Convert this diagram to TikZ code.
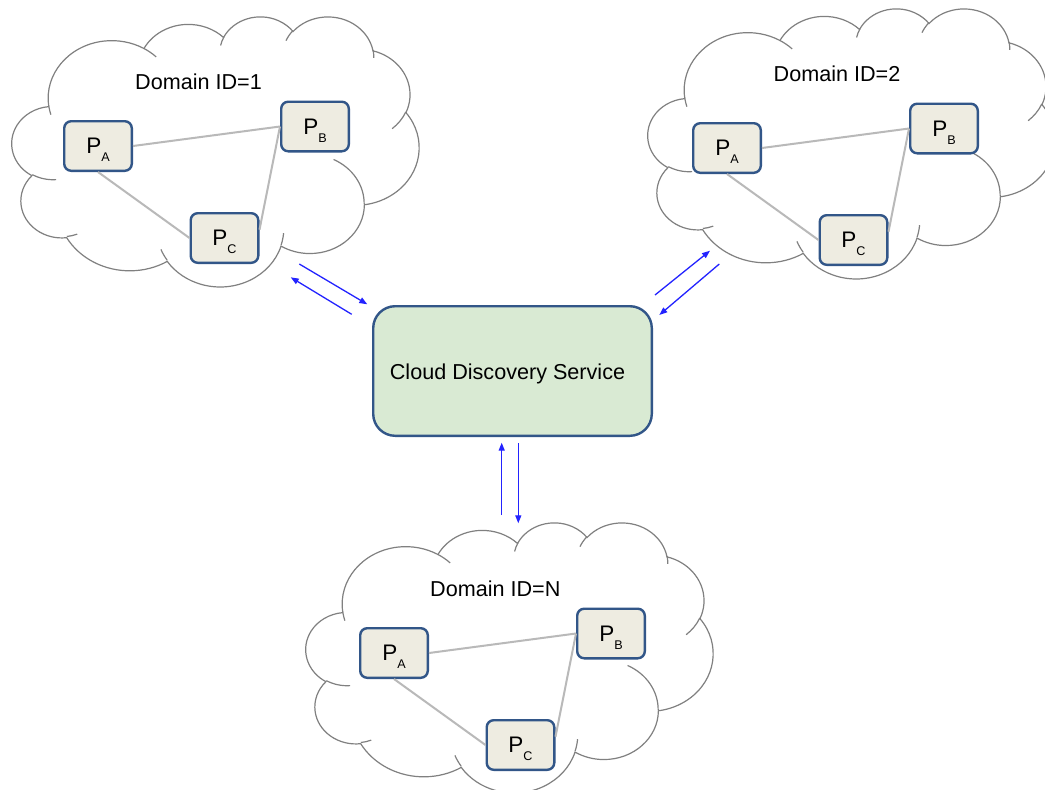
\documentclass[tikz,border=0pt]{standalone}
\usepackage{fontspec}
\setmainfont{Liberation Sans}
\usetikzlibrary{arrows.meta,calc}
\definecolor{boxblue}{RGB}{50,86,136}
\definecolor{pfill}{RGB}{238,236,225}
\definecolor{cdsfill}{RGB}{217,234,211}
\definecolor{linkgray}{RGB}{185,185,185}
\definecolor{cloudgray}{RGB}{128,128,128}
\definecolor{arrowblue}{RGB}{35,35,255}
\tikzset{
  carc/.style n args={4}{start angle={pa(#1,#2,#3)},
    delta angle={Mod(pa(#1,#2,#3+#4)-pa(#1,#2,#3),360)},
    x radius=#1, y radius=#2},
  cloudline/.style={draw=cloudgray, line width=1.2pt},
  pbox/.style={draw=boxblue, line width=2.4pt, fill=pfill, rounded corners=7pt,
    minimum width=67.6pt, minimum height=49.6pt, inner sep=0pt},
  cdsbox/.style={draw=boxblue, line width=2.4pt, fill=cdsfill, rounded corners=22pt,
    minimum width=278.6pt, minimum height=129.6pt, inner sep=0pt,
    text height=16.6pt, text depth=0pt, font=\fontsize{21.6}{24}\selectfont},
  domtext/.style={anchor=base west, inner sep=0pt, font=\fontsize{21.6}{24}\selectfont},
  link/.style={draw=linkgray, line width=2pt},
  flow/.style={draw=arrowblue, line width=1.3pt, -{Triangle[length=8pt,width=6pt]}}
}
\newcommand\procname[2]{\fontsize{22.5}{22}\selectfont #1\raisebox{-8pt}[0pt][0pt]{\fontsize{12.6}{13}\selectfont #2}}
\newcommand\domaincloud[2]{%
  \begin{scope}[shift={(#1,#2)}, xscale=9.4213, yscale=6.25]
    \draw[cloudline, fill=white] (3.9,14.37)
      arc[carc={6.753}{9.19}{-190.48748}{123.78053}]
      arc[carc={5.333}{7.267}{-144.10238}{89.94523}]
      arc[carc={4.365}{5.945}{-145.80792}{99.72302}]
      arc[carc={4.857}{6.595}{-130.98607}{117.24173}]
      arc[carc={5.333}{7.273}{-78.70888}{109.02692}]
      arc[carc={6.775}{9.22}{-46.26725}{130.269}]
      arc[carc={5.785}{7.867}{0.62502}{114.03333}]
      arc[carc={6.752}{9.215}{22.4516}{115.17255}]
      arc[carc={7.72}{10.543}{66.24263}{75.71102}]
      arc[carc={4.36}{5.918}{-274.94208}{146.73557}]
      arc[carc={4.345}{5.945}{-246.8285}{152.51885}] -- cycle;
    \draw[cloudline]
      (4.693,26.177) arc[carc={4.345}{5.945}{86.742}{26.4295}]
      (6.928,34.899) arc[carc={4.36}{5.918}{73.61047}{11.44747}]
      (16.478,39.09) arc[carc={6.752}{9.215}{137.62415}{14.0811}]
      (28.827,34.751) arc[carc={6.752}{9.215}{6.45327}{15.99835}]
      (34.129,22.954) arc[carc={5.785}{7.867}{-70.29235}{70.91737}]
      (41.798,15.354) arc[carc={5.333}{7.273}{30.31803}{27.7515}]
      (38.324,5.426) arc[carc={4.857}{6.595}{-13.74433}{14.8589}]
      (29.078,3.952) arc[carc={4.857}{6.595}{-149.18145}{18.19537}]
      (22.141,4.72) arc[carc={4.365}{5.945}{-163.49427}{17.68635}]
      (14,5.192) arc[carc={6.753}{9.19}{-66.70695}{12.31935}]
      (4.127,15.789) arc[carc={6.753}{9.19}{157.65435}{11.85817}];
  \end{scope}}
\begin{document}
\begin{tikzpicture}[x=1pt, y=1pt, yscale=-1,
  declare function={pa(\qw,\qh,\qa)=atan2(\qw*sin(\qa),\qh*cos(\qa));}]
\useasboundingbox (0,0) rectangle (1045,790);
\clip (0,0) rectangle (1045,790);
\fill[white] (0,0) rectangle (1045,790);

% clouds
\domaincloud{12}{16}
\domaincloud{648}{8}
\domaincloud{306}{522}

% domain labels
\node[domtext] (d1) at (135,89) {Domain ID=1};
\node[domtext] (d2) at (773.5,81.7) {Domain ID=2};
\node[domtext] (dn) at (430,596) {Domain ID=N};

% domain 1
\node[pbox] (pa1) at (98,146) {\procname{P}{A}};
\node[pbox] (pb1) at (315,126.5) {\procname{P}{B}};
\node[pbox] (pc1) at (224.5,238) {\procname{P}{C}};
% domain 2
\node[pbox] (pa2) at (727,148) {\procname{P}{A}};
\node[pbox] (pb2) at (944,128.5) {\procname{P}{B}};
\node[pbox] (pc2) at (853.5,240) {\procname{P}{C}};
% domain N
\node[pbox] (pan) at (394,653) {\procname{P}{A}};
\node[pbox] (pbn) at (611,633.5) {\procname{P}{B}};
\node[pbox] (pcn) at (520.5,745) {\procname{P}{C}};

\foreach \s in {1,2,n}{
  \draw[link] (pa\s.east) -- (pb\s.west);
  \draw[link] (pa\s.south) -- (pc\s.west);
  \draw[link] (pb\s.west) -- ($(pc\s.east)!0.32!(pc\s.north east)$);
}

% central service
\node[cdsbox] (cds) at (512.5,371) {\hspace*{-10pt}Cloud Discovery Service};

% arrow end points
\coordinate (a1s) at (299.3,264);   \coordinate (a1e) at (367.3,304.3);
\coordinate (a2s) at (351.7,314.3); \coordinate (a2e) at (290.7,277.3);
\coordinate (a3s) at (655,295);     \coordinate (a3e) at (710,250.7);
\coordinate (a4s) at (719.3,264);   \coordinate (a4e) at (659.3,315);
\coordinate (a5s) at (501.7,515);   \coordinate (a5e) at (501.7,442.7);
\coordinate (a6s) at (518.3,443.3); \coordinate (a6e) at (518.3,523.3);

\draw[flow] (a1s) -- (a1e);
\draw[flow] (a2s) -- (a2e);
\draw[flow] (a3s) -- (a3e);
\draw[flow] (a4s) -- (a4e);
\draw[flow] (a5s) -- (a5e);
\draw[flow] (a6s) -- (a6e);
\end{tikzpicture}
\end{document}
